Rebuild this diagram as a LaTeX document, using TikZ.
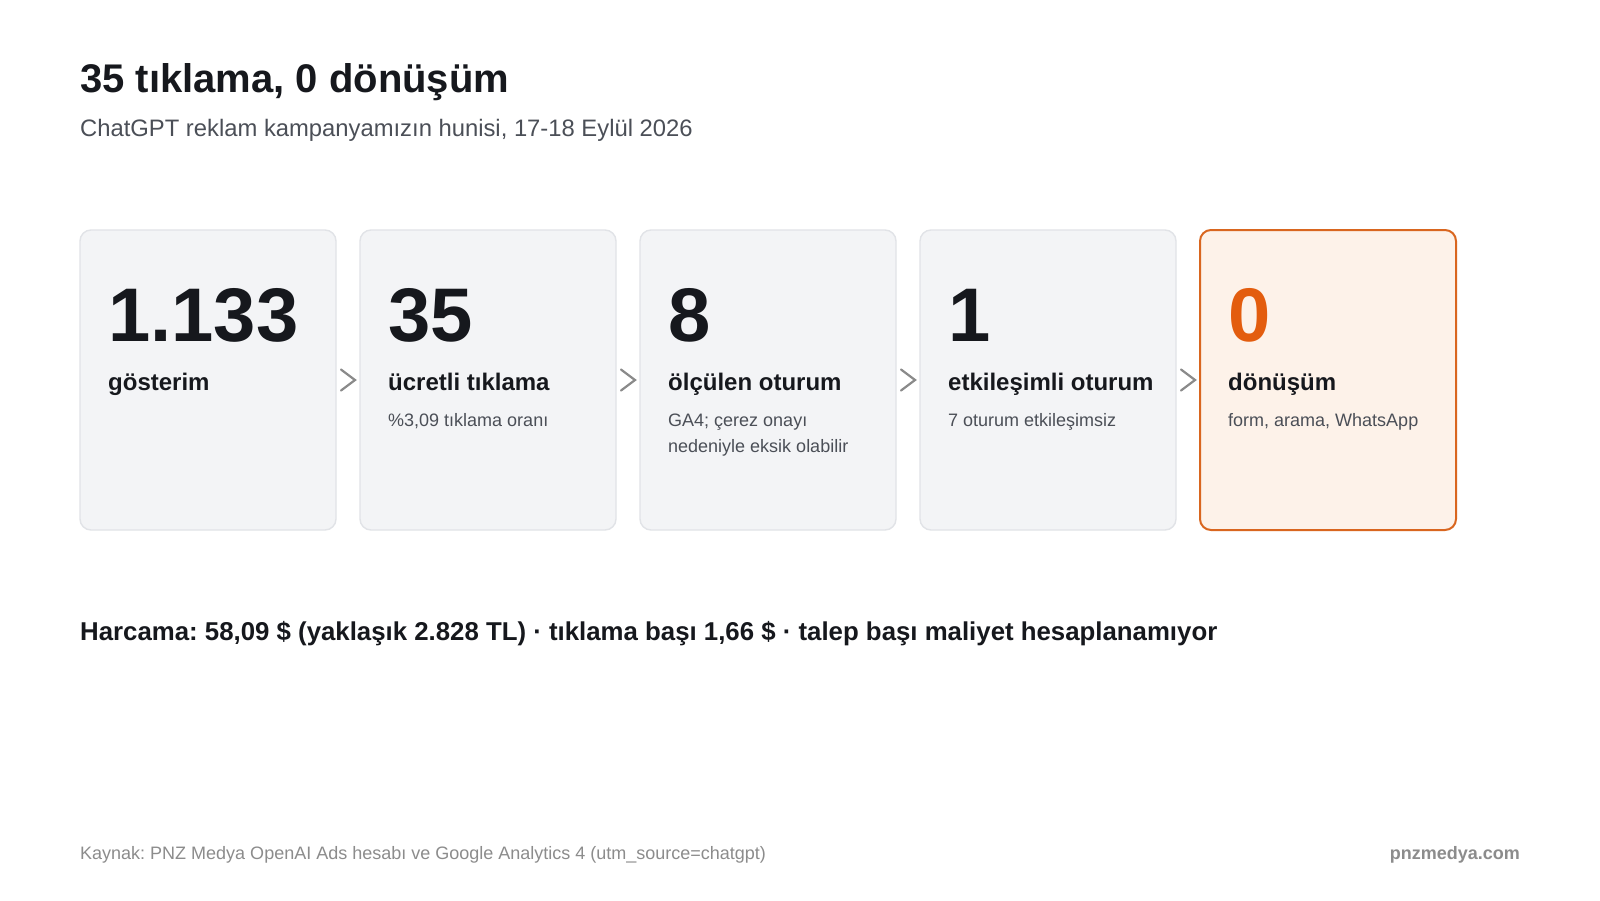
\documentclass[tikz,border=0pt]{standalone}
\usepackage{fontspec}
\setmainfont{Liberation Sans}
\usetikzlibrary{positioning}
\frenchspacing

\definecolor{ink}{HTML}{16181D}
\definecolor{softgrey}{HTML}{4B4F57}
\definecolor{footgrey}{HTML}{8C8C8C}
\definecolor{cardbg}{HTML}{F3F4F6}
\definecolor{cardline}{HTML}{E1E3E7}
\definecolor{hotbg}{HTML}{FDF2E9}
\definecolor{hotline}{HTML}{D9661F}
\definecolor{hot}{HTML}{E35D0E}
\definecolor{chevgrey}{HTML}{8A8A8A}

\begin{document}
\begin{tikzpicture}[x=1pt,y=-1pt,
    card/.style={draw=cardline, fill=cardbg, line width=1.4pt, rounded corners=11pt,
        minimum width=256pt, minimum height=300pt, inner sep=0pt, outer sep=0pt},
    hotcard/.style={card, draw=hotline, fill=hotbg, line width=2pt},
    num/.style={anchor=base west, inner sep=0pt, text=ink, font=\fontsize{76}{80}\selectfont\bfseries},
    lbl/.style={anchor=base west, inner sep=0pt, text=ink, font=\fontsize{24}{28}\selectfont\bfseries},
    sub/.style={anchor=base west, inner sep=0pt, text=softgrey, font=\fontsize{18}{26.5}\selectfont},
    chev/.style={draw=chevgrey, line width=2.2pt, line cap=round, line join=miter}]

    %background and page size:
    \fill[white] (0,0) rectangle (1600,900);
    \useasboundingbox (0,0) rectangle (1600,900);

    %heading:
    \node[anchor=base west, inner sep=0pt, text=ink, font=\fontsize{40}{46}\selectfont\bfseries]
        (title) at (80,92) {35 tıklama, 0 dönüşüm};
    \node[anchor=base west, inner sep=0pt, text=softgrey, font=\fontsize{23.8}{28}\selectfont]
        (subtitle) at (80,136) {ChatGPT reklam kampanyamızın hunisi, 17-18 Eylül 2026};

    %funnel cards:
    \node[card, anchor=north west] (c1) at (80,230) {};
    \node[card, right=24pt of c1] (c2) {};
    \node[card, right=24pt of c2] (c3) {};
    \node[card, right=24pt of c3] (c4) {};
    \node[hotcard, right=24pt of c4] (c5) {};

    %numbers:
    \node[num] (n1) at ([xshift=28pt,yshift=-111pt]c1.north west) {1.133};
    \node[num] (n2) at ([xshift=28pt,yshift=-111pt]c2.north west) {35};
    \node[num] (n3) at ([xshift=28pt,yshift=-111pt]c3.north west) {8};
    \node[num] (n4) at ([xshift=28pt,yshift=-111pt]c4.north west) {1};
    \node[num, text=hot] (n5) at ([xshift=28pt,yshift=-111pt]c5.north west) {0};

    %labels:
    \node[lbl] (l1) at ([xshift=28pt,yshift=-160pt]c1.north west) {gösterim};
    \node[lbl] (l2) at ([xshift=28pt,yshift=-160pt]c2.north west) {ücretli tıklama};
    \node[lbl] (l3) at ([xshift=28pt,yshift=-160pt]c3.north west) {ölçülen oturum};
    \node[lbl] (l4) at ([xshift=28pt,yshift=-160pt]c4.north west) {etkileşimli oturum};
    \node[lbl] (l5) at ([xshift=28pt,yshift=-160pt]c5.north west) {dönüşüm};

    %small notes:
    \node[sub] (s2) at ([xshift=28pt,yshift=-196pt]c2.north west) {\%3,09 tıklama oranı};
    \node[sub] (s3) at ([xshift=28pt,yshift=-196pt]c3.north west) {GA4; çerez onayı};
    \node[sub] (s3b) at ([xshift=28pt,yshift=-222.5pt]c3.north west) {nedeniyle eksik olabilir};
    \node[sub] (s4) at ([xshift=28pt,yshift=-196pt]c4.north west) {7 oturum etkileşimsiz};
    \node[sub] (s5) at ([xshift=28pt,yshift=-196pt]c5.north west) {form, arama, WhatsApp};

    %chevrons between cards:
    \foreach \a/\b in {c1/c2,c2/c3,c3/c4,c4/c5}{
        \path (\a.east) -- (\b.west) coordinate[midway] (m-\a);
        \draw[chev] ([xshift=-7pt,yshift=10.5pt]m-\a) -- ([xshift=7pt]m-\a)
            -- ([xshift=-7pt,yshift=-10.5pt]m-\a);
    }

    %spend line:
    \node[anchor=base west, inner sep=0pt, text=ink, font=\fontsize{25.8}{30}\selectfont\bfseries]
        (spend) at (80,640) {Harcama: 58,09 \$ (yaklaşık 2.828 TL) · tıklama başı 1,66 \$ · talep başı maliyet hesaplanamıyor};

    %footer:
    \node[anchor=base west, inner sep=0pt, text=footgrey, font=\fontsize{18}{21}\selectfont]
        (source) at (80,859) {Kaynak: PNZ Medya OpenAI Ads hesabı ve Google Analytics 4 (utm\_source=chatgpt)};
    \node[anchor=base east, inner sep=0pt, text=footgrey, font=\fontsize{18}{21}\selectfont\bfseries]
        (brand) at (1520,859) {pnzmedya.com};

\end{tikzpicture}
\end{document}
